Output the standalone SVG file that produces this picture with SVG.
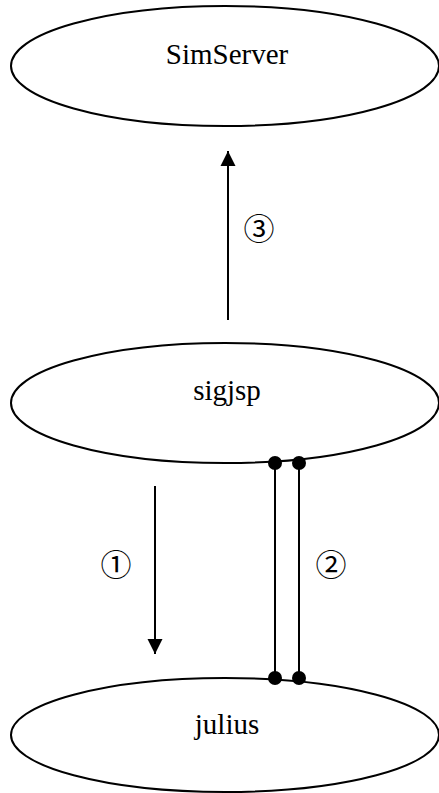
<svg xmlns="http://www.w3.org/2000/svg" width="439" height="793" viewBox="0 0 439 793">
<style>
.node{fill:#fff;stroke:#000;stroke-width:2}
.lbl{font-family:"Liberation Serif","Times New Roman",serif;font-size:29px;fill:#000;text-anchor:middle}
.num{font-family:"Noto Sans CJK JP","Noto Sans CJK SC",sans-serif;font-size:31px;fill:#000;text-anchor:middle;font-variant-emoji:text}
.ln{stroke:#000;stroke-width:2;fill:none}
</style>
<defs>
<marker id="ah" markerWidth="16" markerHeight="16" viewBox="0 0 16 16" refX="15" refY="8" orient="auto" markerUnits="userSpaceOnUse">
<path d="M0,0.5 L15,8 L0,15.5 Z" fill="#000"/>
</marker>
</defs>
<g id="simserver"><ellipse class="node" cx="225" cy="66" rx="214" ry="60"/><text class="lbl" x="227" y="64">SimServer</text></g>
<g id="sigjsp"><ellipse class="node" cx="225" cy="403" rx="214" ry="60"/><text class="lbl" x="227" y="400">sigjsp</text></g>
<g id="julius"><ellipse class="node" cx="225" cy="735" rx="214" ry="57"/><text class="lbl" x="227" y="734">julius</text></g>
<g id="connectors">
<line class="ln" x1="228" y1="320" x2="228" y2="151" marker-end="url(#ah)"/>
<line class="ln" x1="155" y1="486" x2="155" y2="654" marker-end="url(#ah)"/>
<line class="ln" x1="275" y1="463" x2="275" y2="678"/>
<line class="ln" x1="299" y1="463" x2="299" y2="678"/>
<circle cx="275" cy="463" r="7"/><circle cx="299" cy="463" r="7"/>
<circle cx="275" cy="678" r="7"/><circle cx="299" cy="678" r="7"/>
<text class="num" x="259" y="240">③︎</text>
<text class="num" x="116" y="576">①︎</text>
<text class="num" x="331" y="576">②︎</text>
</g>
</svg>
